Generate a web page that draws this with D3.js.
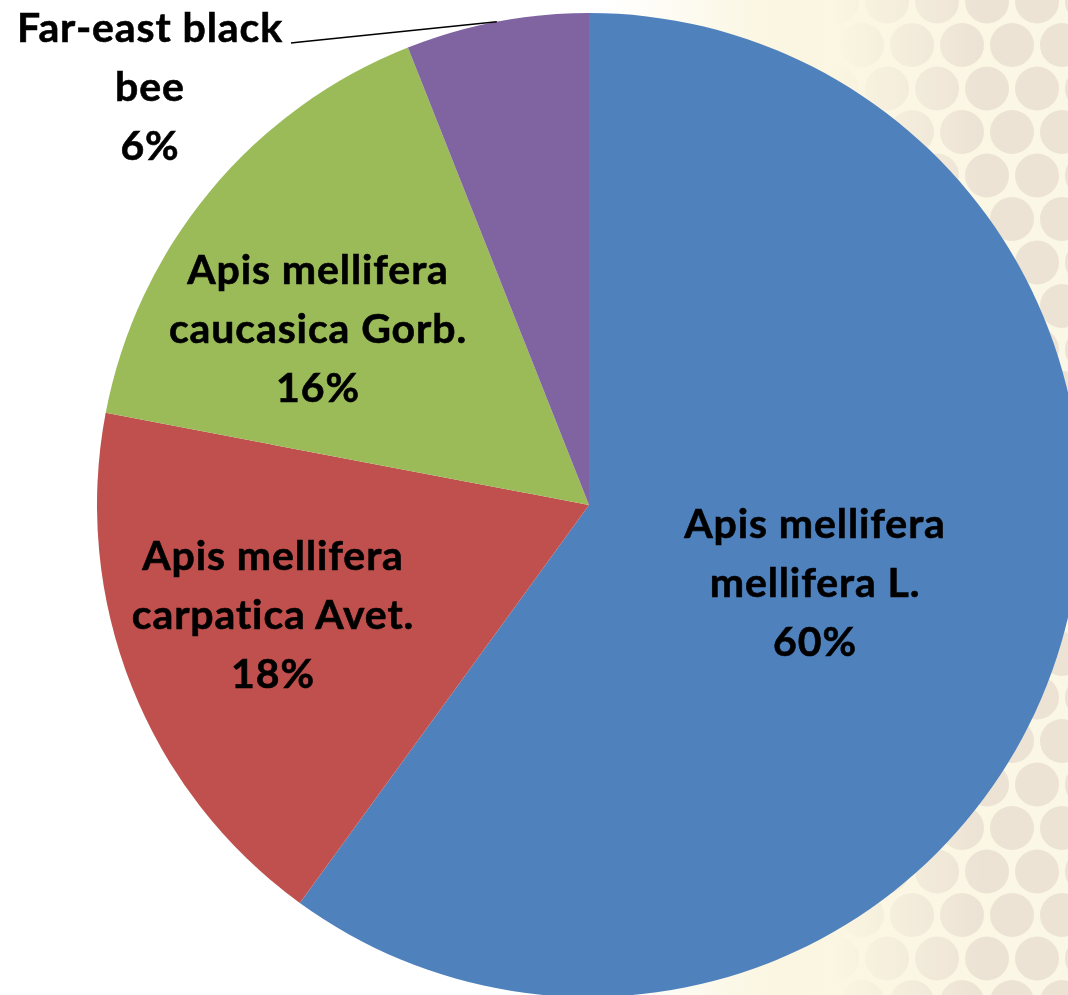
<!DOCTYPE html>
<html>
<head>
<meta charset="utf-8">
<script src="https://cdn.jsdelivr.net/npm/d3@7"></script>
<style>
  html, body { margin: 0; padding: 0; background: #fff; }
  #app { width: 1068px; height: 995px; overflow: hidden; }
</style>
</head>
<body>
<div id="app"></div>
<script>
// chart data
const breeds = ["Apis mellifera mellifera L.", "Apis mellifera carpatica Avet.", "Apis mellifera caucasica Gorb.", "Far-east black bee"];
const shares = [60, 18, 16, 6];
const colors = ["#4F81BD", "#C0504D", "#9BBB59", "#8064A2"];
// label lines, as split on the slide
const labelLines = [
    ["Apis mellifera", "mellifera L.", "60%"],
    ["Apis mellifera", "carpatica Avet.", "18%"],
    ["Apis mellifera", "caucasica Gorb.", "16%"],
    ["Far-east black", "bee", "6%"]
];

const width = 1068, height = 995;
const cx = 589, cy = 505, radius = 492;

const svg = d3.select("#app")
    .append("svg")
    .attr("width", width)
    .attr("height", height);

const defs = svg.append("defs");

// honeycomb-ish background fading in from the right
const fade = defs.append("linearGradient").attr("id", "fade")
    .attr("x1", 0).attr("x2", 1).attr("y1", 0).attr("y2", 0);
fade.append("stop").attr("offset", "0.57").attr("stop-color", "#fff");
fade.append("stop").attr("offset", "0.72").attr("stop-color", "#FBF6E1");
fade.append("stop").attr("offset", "1").attr("stop-color", "#FBF7E6");

const cellMaskGrad = defs.append("linearGradient").attr("id", "cellFade")
    .attr("x1", 0).attr("x2", 1).attr("y1", 0).attr("y2", 0);
cellMaskGrad.append("stop").attr("offset", "0.78").attr("stop-color", "#000");
cellMaskGrad.append("stop").attr("offset", "0.92").attr("stop-color", "#fff");
defs.append("mask").attr("id", "cellMask")
    .append("rect").attr("width", width).attr("height", height).attr("fill", "url(#cellFade)");

svg.append("rect").attr("width", width).attr("height", height).attr("fill", "url(#fade)");

const cells = [];
const step = 50;
for (let row = -1; row * step * 0.87 < height + step; row++) {
    for (let col = 0; col * step < width + step; col++) {
        cells.push([col * step + (row % 2 ? step / 2 : 0) + 12, row * step * 0.87 + 45]);
    }
}
svg.append("g")
    .attr("mask", "url(#cellMask)")
    .selectAll("circle")
    .data(cells)
    .join("circle")
    .attr("cx", d => d[0])
    .attr("cy", d => d[1])
    .attr("r", 22)
    .attr("fill", "#E2D6CA")
    .attr("opacity", 0.6);

// pie
const pie = d3.pie().sort(null).value(d => d);
const arc = d3.arc().innerRadius(0).outerRadius(radius);
const arcs = pie(shares);

const g = svg.append("g").attr("transform", `translate(${cx},${cy})`);

g.selectAll("path.slice")
    .data(arcs)
    .join("path")
    .attr("class", "slice")
    .attr("d", arc)
    .attr("fill", (d, i) => colors[i]);

// label positions (centre x, first baseline) in chart coords
const labelPos = [
    [815, 538],
    [273, 570],
    [318, 284],
    [150, 42]
];
const lineGap = 59;

const labels = svg.append("g")
    .attr("font-family", "Lato, 'Open Sans', sans-serif")
    .attr("font-weight", "bold")
    .attr("font-size", 41)
    .attr("letter-spacing", 0.9)
    .attr("fill", "#000")
    .attr("stroke", "#000")
    .attr("stroke-width", 0.6)
    .attr("text-anchor", "middle");

labelLines.forEach((lines, i) => {
    const t = labels.append("text")
        .attr("x", labelPos[i][0])
        .attr("y", labelPos[i][1]);
    lines.forEach((ln, j) => {
        t.append("tspan")
            .attr("x", labelPos[i][0])
            .attr("dy", j === 0 ? 0 : lineGap)
            .text(ln);
    });
});

// leader line for the small slice
const small = arcs[3];
const mid = (small.startAngle + small.endAngle) / 2;
const edge = [cx + radius * Math.sin(mid), cy - radius * Math.cos(mid)];
svg.append("polyline")
    .attr("points", [[291, 43], [300, 42], edge].map(p => p.join(",")).join(" "))
    .attr("fill", "none")
    .attr("stroke", "#000")
    .attr("stroke-width", 1.5);
</script>
</body>
</html>
